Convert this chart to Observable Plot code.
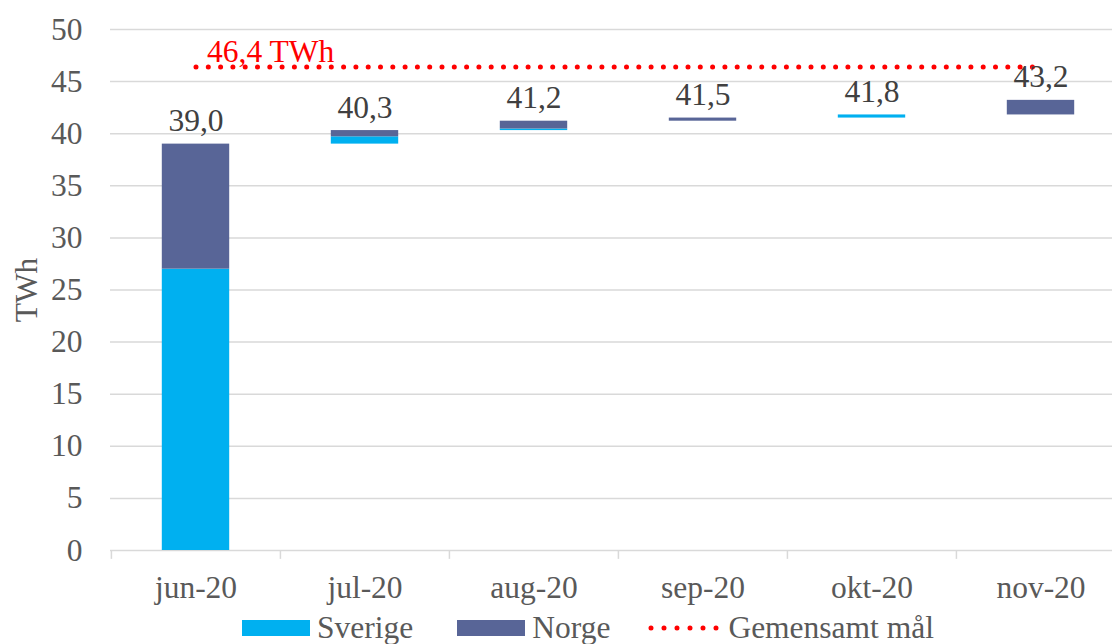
<!DOCTYPE html>
<html><head><meta charset="utf-8">
<script src="https://cdn.jsdelivr.net/npm/d3@7"></script>
<script src="https://cdn.jsdelivr.net/npm/@observablehq/plot@0.6"></script>
<style>
html,body{margin:0;padding:0;background:#fff;overflow:hidden;}
body{font-family:"Liberation Serif","Times New Roman",serif;width:1112px;height:644px;}
#chart svg{display:block;}
#legend{display:flex;align-items:center;height:32px;padding-left:242px;font-size:31.5px;line-height:1;color:#595959;white-space:nowrap;}
#legend .sw{display:inline-block;width:68px;height:16px;margin-right:7px;}
#legend .txt{display:inline-block;line-height:1;}
</style></head><body>
<div id="chart"></div>
<div id="legend"></div>
<script>
const months = ["jun-20","jul-20","aug-20","sep-20","okt-20","nov-20"];
const sverige = [27.0, 0.7, 0.15, 0, 0.3, 0];
const norge = [12.0, 0.6, 0.75, 0.3, 0, 1.4];
const totals = [39.0, 40.3, 41.2, 41.5, 41.8, 43.2];
const totalLabels = ["39,0","40,3","41,2","41,5","41,8","43,2"];
const target = 46.4;
const targetLabel = "46,4 TWh";
const yTicks = [0,5,10,15,20,25,30,35,40,45,50];
const seriesNames = ["Sverige","Norge"];
const seriesColors = ["#00B0F0","#586597"];
const targetName = "Gemensamt mål";
const targetColor = "#FF0000";

const W = 1112, H = 612, mL = 110, mR = -13, mT = 29, mB = 62;
const bandW = (W - mL - mR) / months.length;
const FS = 31.5;

// waterfall segments
const rows = [];
months.forEach((m, i) => {
  const base = i === 0 ? 0 : totals[i - 1];
  if (sverige[i] > 0) rows.push({month: m, series: "Sverige", y1: base, y2: base + sverige[i]});
  if (norge[i] > 0) rows.push({month: m, series: "Norge", y1: base + sverige[i], y2: totals[i]});
});
const labelRows = months.map((m, i) => ({month: m, total: totals[i], label: totalLabels[i]}));

const chart = Plot.plot({
  width: W, height: H,
  marginLeft: mL, marginRight: mR, marginTop: mT, marginBottom: mB,
  style: {fontFamily: '"Liberation Serif","Times New Roman",serif', fontSize: FS + "px", background: "#fff", overflow: "visible", color: "#595959"},
  x: {domain: months, padding: 0, label: null},
  y: {domain: [0, 50], label: null},
  color: {domain: seriesNames, range: seriesColors},
  marks: [
    Plot.gridY(yTicks, {stroke: "#d9d9d9", strokeOpacity: 1, strokeWidth: 1.5}),
    Plot.ruleX(months, {x: d => d, y1: 0, y2: -0.85, dx: -bandW / 2, stroke: "#d9d9d9", strokeWidth: 1.5}),
    Plot.axisY(yTicks, {tickSize: 0, tickPadding: 28, fill: "#595959", fontSize: FS, label: "TWh", labelAnchor: "center", labelArrow: "none", labelOffset: 96}),
    Plot.axisX({tickSize: 0, tickPadding: 25, fill: "#595959", fontSize: FS, label: null}),
    Plot.barY(rows, {x: "month", y1: "y1", y2: "y2", fill: "series", insetLeft: 50.8, insetRight: 50.8}),
    Plot.lineY(months, {x: d => d, y: () => target, stroke: targetColor, strokeWidth: 5, strokeDasharray: "0 12.3", strokeLinecap: "round"}),
    Plot.text([targetLabel], {x: () => months[0], y: () => target, text: d => d, textAnchor: "start", lineAnchor: "bottom", dx: 11, dy: -5, fill: targetColor, fontSize: FS}),
    Plot.text(labelRows, {x: "month", y: "total", text: "label", lineAnchor: "bottom", dy: -13, fill: "#404040", fontSize: FS})
  ]
});
document.getElementById("chart").appendChild(chart);

// legend
const lg = document.getElementById("legend");
seriesNames.forEach((n, i) => {
  const sw = document.createElement("span");
  sw.className = "sw";
  sw.style.background = seriesColors[i];
  if (i > 0) sw.style.marginLeft = "44px";
  const t = document.createElement("span");
  t.className = "txt";
  t.textContent = n;
  lg.appendChild(sw); lg.appendChild(t);
});
const ns = "http://www.w3.org/2000/svg";
const s = document.createElementNS(ns, "svg");
s.setAttribute("width", "75"); s.setAttribute("height", "10");
s.style.marginLeft = "36px"; s.style.marginRight = "7px";
const ln = document.createElementNS(ns, "line");
ln.setAttribute("x1", "5"); ln.setAttribute("x2", "71"); ln.setAttribute("y1", "5"); ln.setAttribute("y2", "5");
ln.setAttribute("stroke", targetColor); ln.setAttribute("stroke-width", "5");
ln.setAttribute("stroke-dasharray", "0 13"); ln.setAttribute("stroke-linecap", "round");
s.appendChild(ln); lg.appendChild(s);
const tt = document.createElement("span");
tt.className = "txt"; tt.textContent = targetName;
lg.appendChild(tt);
</script>
</body></html>
